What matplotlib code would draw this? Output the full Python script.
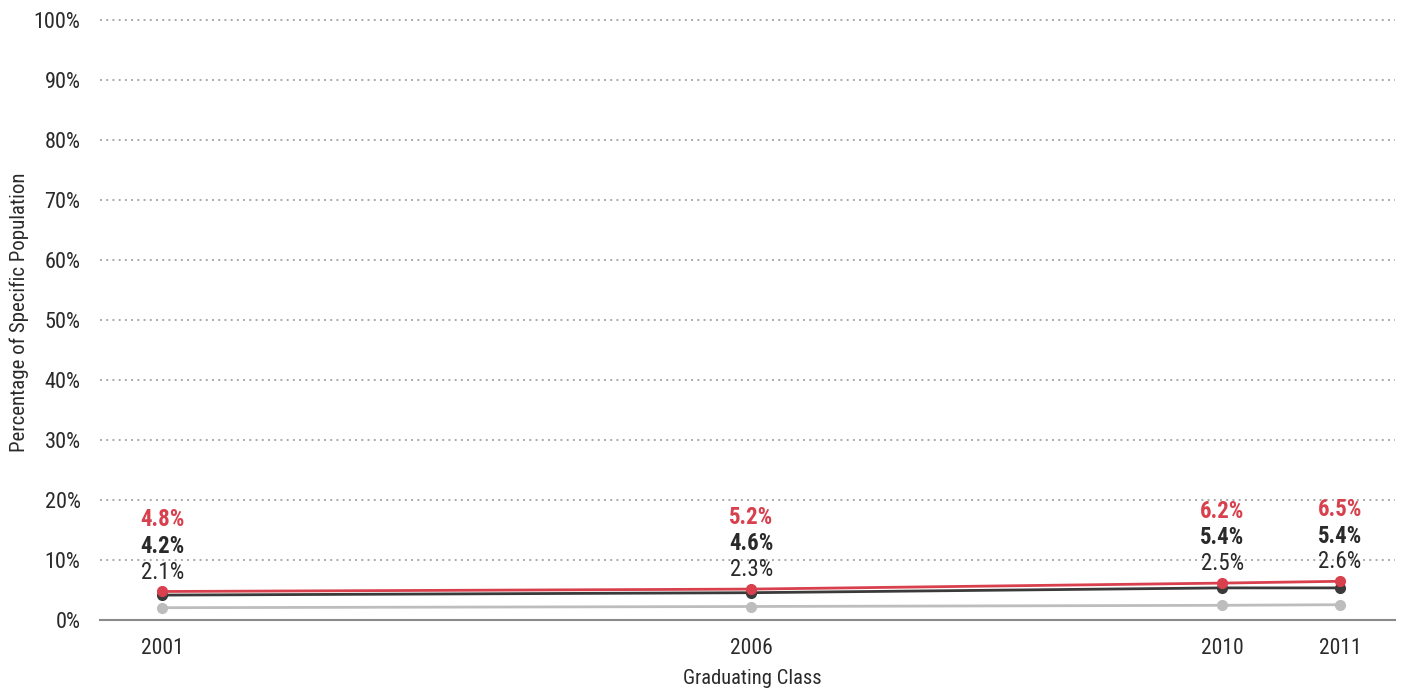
import matplotlib
matplotlib.use("Agg")
import matplotlib.pyplot as plt
from matplotlib import font_manager

years = [2001, 2006, 2010, 2011]
series_red = [4.8, 5.2, 6.2, 6.5]
series_dark = [4.2, 4.6, 5.4, 5.4]
series_grey = [2.1, 2.3, 2.5, 2.6]
y_ticks = [0, 10, 20, 30, 40, 50, 60, 70, 80, 90, 100]

RED = "#d8404e"
DARK = "#3a3a3a"
GREY = "#bdbdbd"
TEXT = "#2a2a2a"

installed = {f.name for f in font_manager.fontManager.ttflist}
family = next((f for f in ["Roboto Condensed", "Barlow Condensed", "Asap Condensed"]
               if f in installed), "DejaVu Sans")
plt.rcParams["font.family"] = [family, "DejaVu Sans"]

fig = plt.figure(figsize=(14.08, 6.90), dpi=100)
ax = fig.add_axes([0.071, 0.101, 0.920, 0.870])
ax.set_xlim(2000.47, 2011.47)
ax.set_ylim(0, 100)

for s in ax.spines.values():
    s.set_visible(False)

# dotted horizontal gridlines
for t in y_ticks[1:]:
    ax.axhline(t, color="#a9a9a9", linestyle=(0, (1, 2.2)), linewidth=1.4,
               clip_on=False, zorder=1)
# solid baseline
ax.axhline(0, color="#8a8a8a", linewidth=1.5, clip_on=False, zorder=2)

ax.plot(years, series_grey, color=GREY, linewidth=2, marker="o", markersize=7, zorder=3)
ax.plot(years, series_dark, color=DARK, linewidth=2, marker="o", markersize=7, zorder=4)
ax.plot(years, series_red, color=RED, linewidth=2, marker="o", markersize=7, zorder=5)

# stacked value labels above each year
for x, r, d, g in zip(years, series_red, series_dark, series_grey):
    ax.annotate(f"{g:.1f}%", (x, r), xytext=(0, 14), textcoords="offset points",
                ha="center", va="center", fontsize=16.5, color=TEXT)
    ax.annotate(f"{d:.1f}%", (x, r), xytext=(0, 32.5), textcoords="offset points",
                ha="center", va="center", fontsize=16.5, color=TEXT, fontweight="bold")
    ax.annotate(f"{r:.1f}%", (x, r), xytext=(0, 51.5), textcoords="offset points",
                ha="center", va="center", fontsize=16.5, color=RED, fontweight="bold")

ax.set_yticks(y_ticks)
ax.set_yticklabels([f"{t}%" for t in y_ticks])
ax.set_xticks(years)
ax.set_xticklabels([str(y) for y in years])
ax.tick_params(axis="y", length=0, pad=14, labelsize=16, labelcolor=TEXT)
ax.tick_params(axis="x", length=0, pad=13, labelsize=15.5, labelcolor=TEXT)

fig.text(752 / 1408, 1 - 678 / 690, "Graduating Class", ha="center", va="center",
         fontsize=14.8, color=TEXT)
fig.text(19 / 1408, 1 - 312 / 690, "Percentage of Specific Population", ha="center",
         va="center", rotation=90, fontsize=15, color=TEXT)

fig.savefig("out.png", dpi=100, facecolor="white")
